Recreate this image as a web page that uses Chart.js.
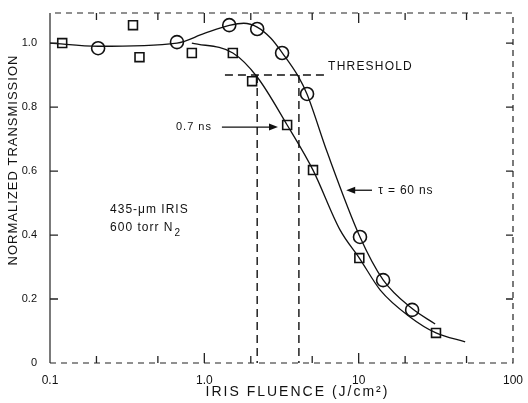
<!DOCTYPE html>
<html>
<head>
<meta charset="utf-8">
<script src="https://cdn.jsdelivr.net/npm/chart.js@4/dist/chart.umd.min.js"></script>
<style>
  body { margin: 0; background: #fff; }
</style>
</head>
<body>
<canvas id="irisChart" width="528" height="403"></canvas>
<script>
// measured points, 0.7 ns pulses (squares)
const shortX = [0.12, 0.345, 0.38, 0.83, 1.53, 2.04, 3.44, 5.06, 10.1, 31.7]
const shortY = [1.0, 1.056, 0.956, 0.969, 0.969, 0.881, 0.744, 0.603, 0.328, 0.094]
// measured points, 60 ns pulses (circles)
const longX = [0.205, 0.665, 1.45, 2.2, 3.19, 4.63, 10.2, 14.4, 22.2]
const longY = [0.984, 1.003, 1.056, 1.044, 0.969, 0.841, 0.394, 0.259, 0.166]
// hand drawn fit curves
const shortFitX = [0.83, 1.53, 2.2, 3.44, 5.06, 7.57, 10.1, 13.8, 21.5, 31.7, 49]
const shortFitY = [1.0, 0.969, 0.894, 0.744, 0.603, 0.416, 0.328, 0.228, 0.144, 0.094, 0.066]
const longFitX = [0.1, 0.205, 0.665, 1.0, 1.45, 1.8, 2.2, 2.7, 3.19, 4.07, 4.63, 6.24, 10.2, 14.4, 22.2, 31.3]
const longFitY = [1.0, 0.99, 1.0, 1.03, 1.055, 1.062, 1.05, 1.015, 0.97, 0.895, 0.84, 0.66, 0.394, 0.26, 0.17, 0.122]

const fluenceTicks = [0.1, 1, 10, 100]
const fluenceLabels = ['0.1', '1.0', '10', '100']
const fluenceMinor = [0.2, 0.5, 2, 5, 20, 50]
const transTicks = [0, 0.2, 0.4, 0.6, 0.8, 1.0]
const transLabels = ['0', '0.2', '0.4', '0.6', '0.8', '1.0']

const thresholdLevel = 0.9
const thresholdFluence = [2.2, 4.1]

const FONT = '"Liberation Sans", Arial, sans-serif'

function toPoints(xs, ys) {
    return xs.map((x, i) => ({ x: x, y: ys[i] }))
}

function arrow(ctx, x1, y, x2) {
    const dir = x2 > x1 ? 1 : -1
    ctx.beginPath()
    ctx.moveTo(x1, y)
    ctx.lineTo(x2 - dir * 6, y)
    ctx.stroke()
    ctx.beginPath()
    ctx.moveTo(x2, y)
    ctx.lineTo(x2 - dir * 9, y - 3.5)
    ctx.lineTo(x2 - dir * 9, y + 3.5)
    ctx.closePath()
    ctx.fill()
}

function label(ctx, text, x, y, size, spacing, align) {
    ctx.font = size + 'px ' + FONT
    ctx.letterSpacing = spacing + 'px'
    ctx.textAlign = align || 'left'
    ctx.textBaseline = 'middle'
    ctx.fillText(text, x, y)
}

const underlay = {
    id: 'underlay',
    beforeDatasetsDraw(chart) {
        const ctx = chart.ctx
        const sx = chart.scales.x
        const sy = chart.scales.y
        const area = chart.chartArea
        ctx.save()
        ctx.strokeStyle = '#111'
        ctx.lineWidth = 1.4
        ctx.setLineDash([8, 5])
        const ty = sy.getPixelForValue(thresholdLevel)
        ctx.beginPath()
        ctx.moveTo(sx.getPixelForValue(1.36), ty)
        ctx.lineTo(sx.getPixelForValue(6.2), ty)
        ctx.stroke()
        for (const f of thresholdFluence) {
            const px = sx.getPixelForValue(f)
            ctx.beginPath()
            ctx.moveTo(px, ty)
            ctx.lineTo(px, area.bottom)
            ctx.stroke()
        }
        ctx.setLineDash([])
        ctx.fillStyle = '#111'
        ctx.lineWidth = 1.3
        arrow(ctx, sx.getPixelForValue(1.3), sy.getPixelForValue(0.7375), sx.getPixelForValue(3.0))
        arrow(ctx, sx.getPixelForValue(12.2), sy.getPixelForValue(0.54), sx.getPixelForValue(8.3))
        ctx.restore()
    },
    afterDraw(chart) {
        const ctx = chart.ctx
        const sx = chart.scales.x
        const sy = chart.scales.y
        const a = chart.chartArea
        ctx.save()
        ctx.strokeStyle = '#222'
        ctx.lineWidth = 1.2
        // frame
        ctx.beginPath()
        ctx.moveTo(a.left, a.top)
        ctx.lineTo(a.left, a.bottom)
        ctx.stroke()
        ctx.setLineDash([6, 5])
        ctx.beginPath()
        ctx.moveTo(a.left, a.bottom)
        ctx.lineTo(a.right, a.bottom)
        ctx.lineTo(a.right, a.top)
        ctx.lineTo(a.left, a.top)
        ctx.stroke()
        ctx.setLineDash([])
        // inward ticks
        ctx.lineWidth = 1.3
        for (const v of transTicks.slice(1)) {
            const py = sy.getPixelForValue(v)
            ctx.beginPath()
            ctx.moveTo(a.left, py); ctx.lineTo(a.left + 8, py)
            ctx.moveTo(a.right, py); ctx.lineTo(a.right - 7, py)
            ctx.stroke()
        }
        for (const v of fluenceMinor.concat([1, 10])) {
            const px = sx.getPixelForValue(v)
            const len = (v === 1 || v === 10) ? 10 : 7
            ctx.beginPath()
            ctx.moveTo(px, a.bottom); ctx.lineTo(px, a.bottom - len)
            ctx.moveTo(px, a.top); ctx.lineTo(px, a.top + len)
            ctx.stroke()
        }
        // texts
        ctx.fillStyle = '#111'
        label(ctx, 'THRESHOLD', sx.getPixelForValue(6.34), sy.getPixelForValue(0.925), 12, 1.2)
        label(ctx, '0.7 ns', sx.getPixelForValue(1.12), sy.getPixelForValue(0.7375), 11, 1, 'right')
        label(ctx, 'τ = 60 ns', sx.getPixelForValue(13.4), sy.getPixelForValue(0.54), 12, 0.8)
        const tx = sx.getPixelForValue(0.245)
        label(ctx, '435-μm IRIS', tx, sy.getPixelForValue(0.478), 12, 1)
        const ny = sy.getPixelForValue(0.422)
        label(ctx, '600 torr N', tx, ny, 12, 1)
        const w = ctx.measureText('600 torr N').width
        label(ctx, '2', tx + w + 1, ny + 5, 10, 0)
        // axis titles
        label(ctx, 'IRIS FLUENCE (J/cm²)', (a.left + a.right) / 2 + 16, 392, 14, 2, 'center')
        ctx.translate(13, 160)
        ctx.rotate(-Math.PI / 2)
        label(ctx, 'NORMALIZED TRANSMISSION', 0, 0, 13, 1, 'center')
        ctx.restore()
    }
}

const config = {
    type: 'scatter',
    data: {
        datasets: [{
            data: toPoints(longFitX, longFitY),
            showLine: true,
            borderColor: '#111',
            borderWidth: 1.3,
            pointRadius: 0,
            cubicInterpolationMode: 'monotone'
        }, {
            data: toPoints(shortFitX, shortFitY),
            showLine: true,
            borderColor: '#111',
            borderWidth: 1.3,
            pointRadius: 0,
            cubicInterpolationMode: 'monotone'
        }, {
            data: toPoints(shortX, shortY),
            pointStyle: 'rect',
            pointRadius: 6.3,
            pointBorderWidth: 1.6,
            pointBorderColor: '#111',
            pointBackgroundColor: '#fff'
        }, {
            data: toPoints(longX, longY),
            pointStyle: 'circle',
            pointRadius: 6.5,
            pointBorderWidth: 1.6,
            pointBorderColor: '#111',
            pointBackgroundColor: '#fff'
        }]
    },
    options: {
        responsive: false,
        animation: false,
        layout: { padding: { top: 13, right: 15, left: 0, bottom: 0 } },
        plugins: { legend: { display: false }, tooltip: { enabled: false } },
        scales: {
            x: {
                type: 'logarithmic',
                min: 0.1,
                max: 100,
                grid: { display: false },
                border: { display: false },
                afterBuildTicks: (scale) => { scale.ticks = fluenceTicks.map(v => ({ value: v })) },
                afterFit: (scale) => { scale.height = 40 },
                ticks: {
                    autoSkip: false,
                    maxRotation: 0,
                    padding: 2,
                    color: '#111',
                    font: { family: FONT, size: 12 },
                    callback: (v) => fluenceLabels[fluenceTicks.indexOf(v)]
                }
            },
            y: {
                min: 0,
                max: 1.094,
                grid: { display: false },
                border: { display: false },
                afterBuildTicks: (scale) => { scale.ticks = transTicks.map(v => ({ value: v })) },
                afterFit: (scale) => { scale.width = 50 },
                ticks: {
                    padding: 5,
                    color: '#111',
                    font: { family: FONT, size: 11 },
                    callback: (v) => transLabels[transTicks.indexOf(v)]
                }
            }
        }
    },
    plugins: [underlay]
}

new Chart(document.getElementById('irisChart'), config)
</script>
</body>
</html>
